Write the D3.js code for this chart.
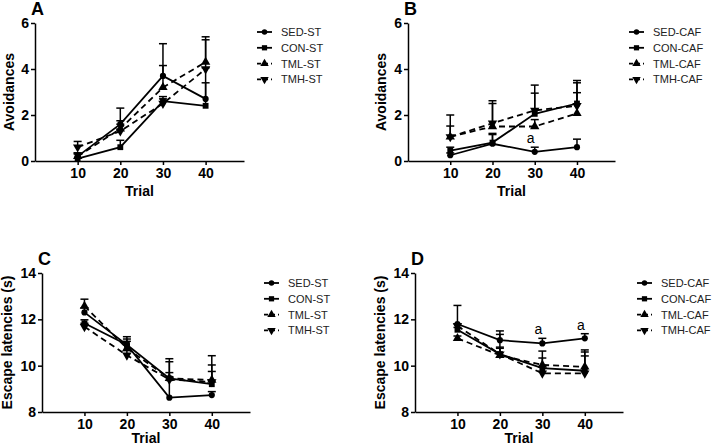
<!DOCTYPE html>
<html lang="en">
<head>
  <meta charset="utf-8">
  <script src="https://cdn.jsdelivr.net/npm/d3@7"></script>
  <style>
    body { margin: 0; background: #fff; }
    svg { font-family: Arial, "Liberation Sans", sans-serif; }
    .tick text { font-weight: bold; font-size: 14px; fill: #000; }
    .axis path, .axis line { stroke: #000; stroke-width: 1.5; }
    .legend text { font-size: 11px; fill: #222; }
  </style>
</head>
<body>
<svg width="712" height="448"></svg>
<script>
// trials on the x axis
var trials = [10, 20, 30, 40];
var tickY_avoid = [0, 2, 4, 6];
var tickY_escape = [8, 10, 12, 14];

var groupsST = ["SED-ST", "CON-ST", "TML-ST", "TMH-ST"];
var groupsCAF = ["SED-CAF", "CON-CAF", "TML-CAF", "TMH-CAF"];

// rows: SED, CON, TML, TMH
var avoidSTMean = [[0.2, 1.6, 3.7, 2.7], [0.1, 0.6, 2.6, 2.4], [0.2, 1.4, 3.2, 4.3], [0.6, 1.3, 2.5, 4.0]];
var avoidSTErr  = [[0.15, 0.7, 1.4, 0.7], [0.2, 0.3, 0.1, 1.65], [0.15, 0.35, 0.95, 1.1], [0.25, 0.3, 0.3, 1.27]];

var avoidCAFMean = [[0.25, 0.75, 0.4, 0.6], [0.45, 0.8, 2.05, 2.5], [1.05, 1.5, 1.5, 2.07], [1.05, 1.64, 2.2, 2.4]];
var avoidCAFErr  = [[0.1, 0.4, 0.2, 0.35], [0.15, 0.4, 0.9, 1.0], [0.95, 1.0, 0.3, 0.9], [0.47, 0.98, 1.1, 1.0]];

var escapeSTMean = [[12.3, 10.9, 8.62, 8.73], [11.83, 10.9, 9.45, 9.2], [12.57, 10.75, 9.45, 9.38], [11.68, 10.45, 9.4, 9.3]];
var escapeSTErr  = [[0.2, 0.35, 0.9, 0.15], [0.15, 0.25, 0.72, 0.83], [0.3, 0.3, 0.85, 1.05], [0.15, 0.2, 0.3, 0.45]];

var escapeCAFMean = [[11.8, 11.1, 10.96, 11.18], [11.55, 10.5, 9.89, 9.78], [11.18, 10.45, 10.03, 9.95], [11.71, 10.5, 9.67, 9.67]];
var escapeCAFErr  = [[0.8, 0.4, 0.22, 0.2], [0.1, 0.25, 0.74, 0.9], [0.1, 0.9, 0.3, 0.47], [0.1, 0.3, 0.3, 0.92]];

// significance marks "a": [series index, trial index]
var marksB = [[0, 2]];
var marksD = [[0, 2], [0, 3]];

var svg = d3.select("svg");

var symbols = [d3.symbolCircle, d3.symbolSquare, d3.symbolTriangle, d3.symbolTriangle];
var symSize = [30, 34, 38, 38];
var rotate = [0, 0, 0, 180];
var dashed = [false, false, true, true];

var panels = [
  { label: "A", mean: avoidSTMean, err: avoidSTErr, names: groupsST, yDomain: [0, 6], yTicks: tickY_avoid,
    yTitle: "Avoidances", titleX: 14, trialDy: 35, ax: 35, x1: 244, yTop: 23, yBot: 161, legX: 257, legY: 32, marks: [] },
  { label: "B", mean: avoidCAFMean, err: avoidCAFErr, names: groupsCAF, yDomain: [0, 6], yTicks: tickY_avoid,
    yTitle: "Avoidances", titleX: 386, trialDy: 35, ax: 408, x1: 615, yTop: 23, yBot: 161, legX: 629, legY: 32, marks: marksB },
  { label: "C", mean: escapeSTMean, err: escapeSTErr, names: groupsST, yDomain: [8, 14], yTicks: tickY_escape,
    yTitle: "Escape latencies (s)", titleX: 12, trialDy: 31, ax: 42, x1: 250, yTop: 273, yBot: 412, legX: 264, legY: 283, marks: [] },
  { label: "D", mean: escapeCAFMean, err: escapeCAFErr, names: groupsCAF, yDomain: [8, 14], yTicks: tickY_escape,
    yTitle: "Escape latencies (s)", titleX: 385, trialDy: 31, ax: 415, x1: 623, yTop: 273, yBot: 412, legX: 637, legY: 283, marks: marksD }
];

panels.forEach(function(p) {
  var g = svg.append("g");
  var x = d3.scaleLinear().domain([0, 49]).range([p.ax, p.x1]);
  var y = d3.scaleLinear().domain(p.yDomain).range([p.yBot, p.yTop]);

  g.append("g").attr("class", "axis")
    .attr("transform", "translate(0," + p.yBot + ")")
    .call(d3.axisBottom(x).tickValues(trials).tickSize(4).tickSizeOuter(0).tickPadding(3));
  g.append("g").attr("class", "axis")
    .attr("transform", "translate(" + p.ax + ",0)")
    .call(d3.axisLeft(y).tickValues(p.yTicks).tickFormat(d3.format("d")).tickSize(4).tickSizeOuter(0).tickPadding(2));

  // titles
  g.append("text").attr("x", (p.ax + p.x1) / 2).attr("y", p.yBot + p.trialDy)
    .attr("text-anchor", "middle").style("font-weight", "bold").style("font-size", "14px").text("Trial");
  g.append("text")
    .attr("transform", "translate(" + p.titleX + "," + ((p.yTop + p.yBot) / 2) + ") rotate(-90)")
    .attr("text-anchor", "middle").style("font-weight", "bold").style("font-size", "14px").text(p.yTitle);
  g.append("text").attr("x", p.ax - 4).attr("y", p.yTop - 8)
    .style("font-weight", "bold").style("font-size", "18px").text(p.label);

  var line = d3.line().x(function(d, i) { return x(trials[i]); }).y(function(d) { return y(d); });

  p.mean.forEach(function(series, s) {
    // error bars (upper only)
    series.forEach(function(v, i) {
      var cx = x(trials[i]), top = y(v + p.err[s][i]);
      g.append("line").attr("x1", cx).attr("x2", cx).attr("y1", y(v)).attr("y2", top)
        .attr("stroke", "#000").attr("stroke-width", 1.5);
      g.append("line").attr("x1", cx - 4).attr("x2", cx + 4).attr("y1", top).attr("y2", top)
        .attr("stroke", "#000").attr("stroke-width", 1.5);
    });
    g.append("path").datum(series).attr("d", line)
      .attr("fill", "none").attr("stroke", "#000").attr("stroke-width", 1.8)
      .attr("stroke-dasharray", dashed[s] ? "6,4" : null);
    g.selectAll(null).data(series).enter().append("path")
      .attr("d", d3.symbol().type(symbols[s]).size(symSize[s]))
      .attr("transform", function(d, i) {
        return "translate(" + x(trials[i]) + "," + y(d) + ") rotate(" + rotate[s] + ")";
      })
      .attr("fill", "#000");
  });

  p.marks.forEach(function(m) {
    g.append("text").attr("x", x(trials[m[1]]) - 4).attr("y", y(p.mean[m[0]][m[1]] + p.err[m[0]][m[1]]) - 4)
      .attr("text-anchor", "middle").style("font-size", "14px").text("a");
  });

  // legend
  var leg = g.append("g").attr("class", "legend");
  p.names.forEach(function(name, s) {
    var ly = p.legY + s * 15.8;
    leg.append("line").attr("x1", p.legX).attr("x2", p.legX + 15).attr("y1", ly).attr("y2", ly)
      .attr("stroke", "#000").attr("stroke-width", 1.8)
      .attr("stroke-dasharray", dashed[s] ? "4,3" : null);
    leg.append("path").attr("d", d3.symbol().type(symbols[s]).size(symSize[s] * 0.8))
      .attr("transform", "translate(" + (p.legX + 7.5) + "," + ly + ") rotate(" + rotate[s] + ")");
    leg.append("text").attr("x", p.legX + 24).attr("y", ly + 4).text(name);
  });
});
</script>
</body>
</html>
